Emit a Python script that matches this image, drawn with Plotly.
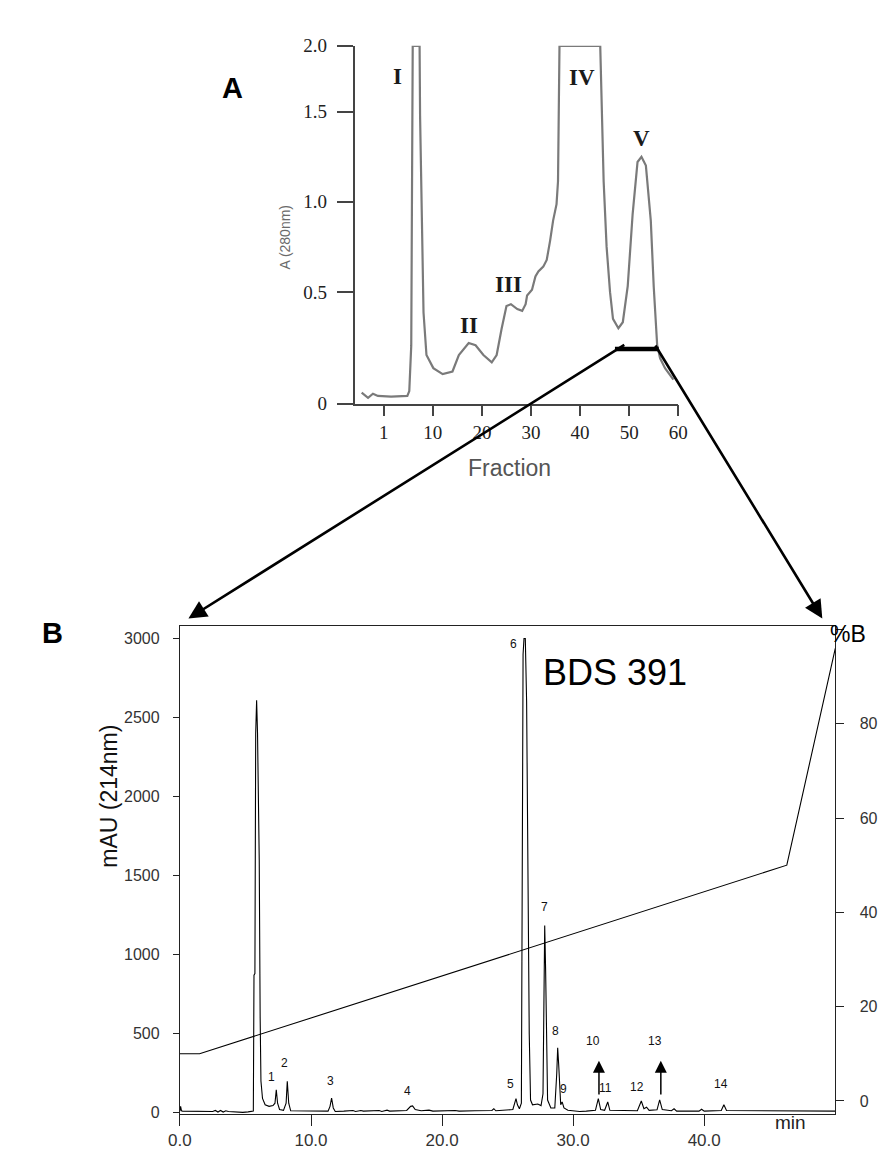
import numpy as np
import plotly.graph_objects as go

W, H = 888, 1151

# ---------------- Panel A: gel filtration profile ----------------
A_FRACTION = [-4.5, -3.2, -2.2, -1.2, 1.5, 4.8, 5.2, 5.6, 5.9, 7.3, 7.4, 8.1, 8.7,
              10.1, 12.0, 14.0, 15.3, 17.3, 18.7, 20.3, 22.0, 23.0, 24.0, 25.0,
              25.9, 27.2, 28.2, 28.9, 29.2, 30.2, 30.9, 31.5, 32.5, 33.2, 33.9,
              34.5, 35.2, 35.5, 35.8, 44.1, 44.8, 45.4, 46.1, 46.7, 47.8, 48.7,
              49.7, 50.7, 51.7, 52.5, 53.4, 54.4, 55.0, 55.7, 56.3, 57.3, 58.3, 59.0]
A_ABS = [0.049, 0.026, 0.044, 0.034, 0.031, 0.034, 0.056, 0.26, 2.0, 2.0, 1.476, 0.409, 0.218,
         0.159, 0.132, 0.144, 0.218, 0.272, 0.262, 0.218, 0.185, 0.218, 0.335, 0.438,
         0.446, 0.424, 0.416, 0.446, 0.485, 0.514, 0.587, 0.614, 0.641, 0.678, 0.786,
         0.895, 0.986, 1.113, 2.0, 2.0, 1.11, 0.75, 0.5, 0.38, 0.338, 0.365,
         0.533, 0.93, 1.22, 1.249, 1.20, 0.895, 0.53, 0.262, 0.203, 0.159, 0.129, 0.107]

A_TICK_ABS = [0, 0.5, 1.0, 1.5, 2.0]
A_TICK_LABELS = ["0", "0.5", "1.0", "1.5", "2.0"]
# the source's absorbance axis is not evenly spaced; drawn positions of its ticks
A_TICK_DRAWN = [0, 0.6224, 1.1290, 1.6318, 2.0]

A_FRACTION_TICKS = [0, 10, 20, 30, 40, 50, 60]
A_FRACTION_LABELS = ["1", "10", "20", "30", "40", "50", "60"]

A_PEAK_NAMES = ["I", "II", "III", "IV", "V"]
A_PEAK_NAME_FRAC = [2.7, 17.4, 25.4, 40.3, 52.5]
A_PEAK_NAME_ABS = [1.764, 0.350, 0.541, 1.757, 1.351]

A_POOL_FRACTIONS = [47.1, 56.0]
A_POOL_ABS = 0.245

# ---------------- Panel B: RP-HPLC of pooled fraction V ----------------
B_TIME = [0.0, 0.05, 0.12, 0.2, 2.5, 2.7, 2.9, 3.1, 3.3, 3.5, 3.7, 4.8, 5.2, 5.45,
          5.6, 5.65, 5.72, 5.78, 5.85, 5.92, 6.05, 6.12, 6.18, 6.3, 6.5, 6.8, 7.1,
          7.25, 7.35, 7.45, 7.6, 7.9,
          8.1, 8.19, 8.3, 8.45, 9.5, 11.3,
          11.45, 11.57, 11.7, 11.85, 12.5, 13.2, 13.4, 13.8, 14.0, 15.2, 15.4, 15.8, 16.0, 17.3,
          17.6, 17.75, 17.95, 18.4, 19.0, 19.3, 21.0, 21.3, 22.5,
          23.8, 23.95, 24.1, 25.4,
          25.55, 25.64, 25.75, 25.9, 26.05,
          26.1, 26.18, 26.25, 26.35, 26.45, 26.55, 26.65, 26.75, 26.9, 27.3, 27.55, 27.7,
          27.78, 27.83, 27.9, 27.98, 28.05, 28.3, 28.6,
          28.75, 28.82, 28.9, 28.97, 29.05,
          29.16, 29.3, 29.6, 30.5, 31.0, 31.7,
          31.92, 32.1, 32.4,
          32.64, 32.8, 34.9,
          35.2, 35.4, 35.6, 35.8, 36.4,
          36.6, 36.8, 37.5, 37.7, 37.9, 39.6, 39.8, 40.0, 41.3,
          41.5, 41.7, 50.0]
B_MAU = [10, 40, 12, 10, 8, 14, 4, 14, 4, 12, 8, 2, 5, 8,
         10, 870, 880, 2400, 2609, 2400, 1600, 600, 200, 90, 50, 40, 45,
         60, 145, 60, 20, 15,
         60, 199, 60, 12, 10, 10,
         40, 93, 30, 8, 10, 14, 8, 14, 10, 14, 8, 16, 10, 14,
         40, 43, 20, 12, 16, 10, 14, 10, 12,
         14, 25, 12, 20,
         60, 89, 50, 25, 60,
         900, 2900, 3000, 3000, 2600, 1472, 500, 80, 50, 55, 45, 120,
         980, 1184, 900, 300, 80, 30, 30,
         250, 410, 300, 120, 50,
         68, 30, 15, 8, 10, 15,
         89, 20, 15,
         68, 15, 12,
         74, 25, 35, 15, 18,
         81, 20, 12, 25, 10, 10, 22, 10, 14,
         50, 14, 10]

B_GRAD_TIME = [0.0, 1.5, 46.3, 50.0]
B_GRAD_PCT = [10, 10, 50, 96]

B_TIME_TICKS = [0, 10, 20, 30, 40]
B_TIME_LABELS = ["0.0", "10.0", "20.0", "30.0", "40.0"]
B_MAU_TICKS = [0, 500, 1000, 1500, 2000, 2500, 3000]
B_PCT_TICKS = [0, 20, 40, 60, 80, 100]
B_PCT_LABELS = ["0", "20", "40", "60", "80", ""]

B_PEAK_LABELS = [str(i) for i in range(1, 15)]
B_LABEL_TIME = [7.02, 7.94, 11.49, 17.37, 25.22, 25.47, 27.83, 28.62, 29.29, 31.52, 32.46, 34.87, 36.24, 41.27]
B_LABEL_MAU = [228, 317, 201, 135, 184, 2967, 1300, 517, 149, 453, 155, 163, 453, 184]
B_ARROW_TIME = [31.97, 36.69]
B_ARROW_FROM = 106
B_ARROW_TO = 329

# ---------------- layout geometry (pixels) ----------------
A_LEFT, A_RIGHT, A_TOP, A_BOTTOM = 343, 675, 28.3, 392.7
B_LEFT, B_RIGHT, B_TOP, B_BOTTOM = 164, 836, 619, 1116
A_XRANGE = [-5.96, 60.0]
B_YRANGE = [-6, 3081]
B_Y3RANGE = [-2.7, 100.8]


def px(x):
    return x / W


def py(y):
    return 1 - y / H


def a_drawn(v):
    return np.interp(v, A_TICK_ABS, A_TICK_DRAWN)


SERIF = "Liberation Serif, Times New Roman, serif"
SANS = "Liberation Sans, Arial, sans-serif"

fig = go.Figure()

fig.add_trace(go.Scatter(x=A_FRACTION, y=a_drawn(A_ABS), mode="lines",
                         line=dict(color="#7a7a7a", width=2.2),
                         xaxis="x", yaxis="y", showlegend=False, hoverinfo="skip"))
fig.add_trace(go.Scatter(x=A_POOL_FRACTIONS, y=a_drawn([A_POOL_ABS, A_POOL_ABS]), mode="lines",
                         line=dict(color="black", width=4.5), xaxis="x", yaxis="y",
                         showlegend=False, hoverinfo="skip"))

fig.add_trace(go.Scatter(x=B_TIME, y=B_MAU, mode="lines",
                         line=dict(color="black", width=1.1), xaxis="x2", yaxis="y2",
                         showlegend=False, hoverinfo="skip"))
fig.add_trace(go.Scatter(x=B_GRAD_TIME, y=B_GRAD_PCT, mode="lines",
                         line=dict(color="black", width=1.1), xaxis="x2", yaxis="y3",
                         showlegend=False, hoverinfo="skip"))

ann = []
for name, f, a in zip(A_PEAK_NAMES, A_PEAK_NAME_FRAC, A_PEAK_NAME_ABS):
    ann.append(dict(text=f"<b>{name}</b>", x=f, y=float(a_drawn(a)), xref="x", yref="y",
                    showarrow=False, font=dict(family=SERIF, size=23, color="#1a1a1a")))
ann.append(dict(text="A (280nm)", x=px(262), y=py(188), xref="paper", yref="paper",
                textangle=-90, showarrow=False, font=dict(family=SANS, size=14, color="#6a6a6a")))
ann.append(dict(text="Fraction", x=px(502), y=py(458), xref="paper", yref="paper",
                showarrow=False, font=dict(family=SANS, size=23, color="#555555")))
ann.append(dict(text="<b>A</b>", x=px(205), y=py(53), xref="paper", yref="paper",
                showarrow=False, font=dict(family=SANS, size=29, color="black")))
ann.append(dict(text="<b>B</b>", x=px(20), y=py(626), xref="paper", yref="paper",
                showarrow=False, font=dict(family=SANS, size=29, color="black")))


# connectors from the pooled bar in A to the corners of B
def a_px_x(f):
    return A_LEFT + (f - A_XRANGE[0]) / (A_XRANGE[1] - A_XRANGE[0]) * (A_RIGHT - A_LEFT)


pool_y_px = A_BOTTOM - float(a_drawn(A_POOL_ABS)) / 2.0 * (A_BOTTOM - A_TOP)
heads = [(172.7, 611.7), (822.7, 611.7)]
for f, (hx, hy) in zip(A_POOL_FRACTIONS, heads):
    tx = a_px_x(f)
    ann.append(dict(text="", x=px(hx), y=py(hy), xref="paper", yref="paper",
                    ax=tx - hx, ay=pool_y_px - hy, axref="pixel", ayref="pixel",
                    showarrow=True, arrowhead=2, arrowsize=1.4, arrowwidth=2.6,
                    arrowcolor="black", standoff=0))

for lab, t, m in zip(B_PEAK_LABELS, B_LABEL_TIME, B_LABEL_MAU):
    ann.append(dict(text=lab, x=t, y=m, xref="x2", yref="y2", showarrow=False,
                    font=dict(family=SANS, size=12, color="#111111")))
for t in B_ARROW_TIME:
    ann.append(dict(text="", x=t, y=B_ARROW_TO, xref="x2", yref="y2",
                    ax=t, ay=B_ARROW_FROM, axref="x2", ayref="y2",
                    showarrow=True, arrowhead=2, arrowsize=1.6, arrowwidth=1.5,
                    arrowcolor="black", standoff=0))

ann.append(dict(text="BDS 391", x=33.17, y=2783, xref="x2", yref="y2", showarrow=False,
                font=dict(family=SANS, size=36, color="black")))
ann.append(dict(text="%B", x=px(870), y=py(627), xref="paper", yref="paper", showarrow=False,
                font=dict(family=SANS, size=23, color="black")))
ann.append(dict(text="min", x=px(808), y=py(1138), xref="paper", yref="paper", showarrow=False,
                font=dict(family=SANS, size=19, color="#222222")))
ann.append(dict(text="mAU (214nm)", x=px(76), y=py(868), xref="paper", yref="paper",
                textangle=-90, showarrow=False, font=dict(family=SANS, size=23, color="#111111")))

fig.update_layout(
    width=W, height=H, autosize=False,
    margin=dict(l=0, r=0, t=0, b=0),
    paper_bgcolor="white", plot_bgcolor="white",
    annotations=ann,
    xaxis=dict(domain=[px(A_LEFT), px(A_RIGHT)], range=A_XRANGE, anchor="y",
               showgrid=False, zeroline=False, showline=True, linecolor="#444", linewidth=1.5,
               ticks="outside", ticklen=11, tickwidth=1.5, tickcolor="#444",
               tickvals=A_FRACTION_TICKS, ticktext=A_FRACTION_LABELS,
               tickfont=dict(family=SERIF, size=19, color="#222")),
    yaxis=dict(domain=[py(A_BOTTOM), py(A_TOP)], range=[0, 2.0], anchor="x",
               showgrid=False, zeroline=False, showline=True, linecolor="#444", linewidth=1.5,
               ticks="outside", ticklen=16, tickwidth=1.5, tickcolor="#444",
               tickvals=A_TICK_DRAWN, ticktext=A_TICK_LABELS, ticklabelstandoff=6,
               tickfont=dict(family=SERIF, size=19, color="#222")),
    xaxis2=dict(domain=[px(B_LEFT), px(B_RIGHT)], range=[0, 50], anchor="y2",
                showgrid=False, zeroline=False, showline=True, mirror=True,
                linecolor="#222", linewidth=1.3,
                ticks="outside", ticklen=11, tickwidth=1.3, tickcolor="#222",
                tickvals=B_TIME_TICKS, ticktext=B_TIME_LABELS,
                tickfont=dict(family=SANS, size=17, color="#333")),
    yaxis2=dict(domain=[py(B_BOTTOM), py(B_TOP)], range=B_YRANGE, anchor="x2",
                showgrid=False, zeroline=False, showline=True, linecolor="#222", linewidth=1.3,
                ticks="outside", ticklen=6, tickwidth=1.3, tickcolor="#222",
                tickvals=B_MAU_TICKS, ticklabelstandoff=10,
                tickfont=dict(family=SANS, size=16, color="#333")),
    yaxis3=dict(domain=[py(B_BOTTOM), py(B_TOP)], range=B_Y3RANGE, anchor="x2",
                overlaying="y2", side="right",
                showgrid=False, zeroline=False, showline=True, linecolor="#222", linewidth=1.3,
                ticks="outside", ticklen=8, tickwidth=1.3, tickcolor="#222",
                tickvals=B_PCT_TICKS, ticktext=B_PCT_LABELS, ticklabelstandoff=12,
                tickfont=dict(family=SANS, size=16, color="#333")),
)

fig.write_html("out.html")
